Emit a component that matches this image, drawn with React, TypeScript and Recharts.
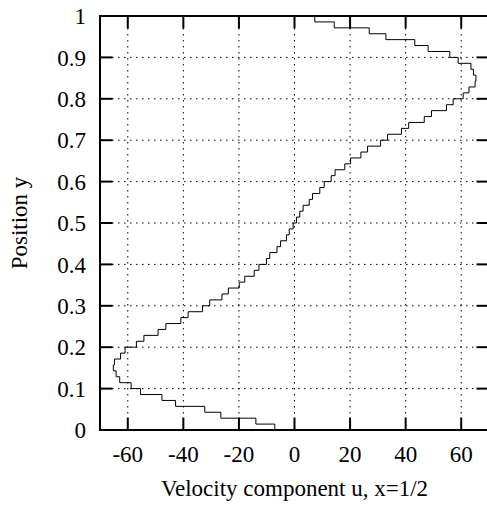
import React from "react";
import {
  LineChart,
  Line,
  XAxis,
  YAxis,
  CartesianGrid,
  ReferenceArea,
} from "recharts";

// position y of each step edge (cells of 1/70)
const yEdges = [
  0, 0.0143, 0.0286, 0.0429, 0.0571, 0.0714, 0.0857, 0.1, 0.1143, 0.1286,
  0.1429, 0.1571, 0.1714, 0.1857, 0.2, 0.2143, 0.2286, 0.2429, 0.2571, 0.2714,
  0.2857, 0.3, 0.3143, 0.3286, 0.3429, 0.3571, 0.3714, 0.3857, 0.4, 0.4143,
  0.4286, 0.4429, 0.4571, 0.4714, 0.4857, 0.5, 0.5143, 0.5286, 0.5429, 0.5571,
  0.5714, 0.5857, 0.6, 0.6143, 0.6286, 0.6429, 0.6571, 0.6714, 0.6857, 0.7,
  0.7143, 0.7286, 0.7429, 0.7571, 0.7714, 0.7857, 0.8, 0.8143, 0.8286, 0.8429,
  0.8571, 0.8714, 0.8857, 0.9, 0.9143, 0.9286, 0.9429, 0.9571, 0.9714, 0.9857,
  1,
];

// velocity u in each cell, bottom to top
const uCells = [
  -7.1, -13.9, -26.5, -32.3, -42.8, -47.7, -55.4, -58.8, -62.9, -64.2,
  -65.2, -64.8, -62.6, -61.0, -56.9, -54.2, -49.1, -46.3, -40.9, -38.3,
  -33.1, -30.5, -26.1, -23.8, -19.9, -17.9, -14.5, -12.8, -10.1, -8.9,
  -6.3, -5.0, -2.9, -1.9, -0.5, 0.7, 1.9, 3.1, 5.3, 6.5,
  9.1, 10.7, 13.2, 14.6, 18.1, 20.2, 23.9, 26.3, 31.0, 33.5,
  38.5, 41.1, 46.7, 49.3, 54.7, 57.1, 60.7, 62.8, 65.0, 65.3,
  64.4, 63.5, 58.9, 55.9, 48.1, 43.3, 32.9, 26.9, 14.3, 7.3,
];

const xTicks = [-60, -40, -20, 0, 20, 40, 60];
const yTicks = [0, 0.1, 0.2, 0.3, 0.4, 0.5, 0.6, 0.7, 0.8, 0.9, 1];

const data = yEdges.map((y, i) => ({
  y,
  u: uCells[Math.min(i, uCells.length - 1)],
}));

const W = 500;
const H = 508;
const MARGIN = { top: 16, right: 11, bottom: 28, left: 40 };
const Y_AXIS_W = 60;
const X_AXIS_H = 50;
const PLOT_W = W - MARGIN.left - MARGIN.right - Y_AXIS_W;
const PLOT_H = H - MARGIN.top - MARGIN.bottom - X_AXIS_H;
const TICK_LEN = 12.5;
const X_GAP = 16;
const Y_GAP = 14;
const FONT = "'Liberation Serif', 'Times New Roman', serif";
const FS = 23;

function XTick(props: any) {
  const { x, y, payload } = props;
  const bottom = y - X_GAP;
  const top = bottom - PLOT_H;
  return (
    <g>
      <line x1={x} x2={x} y1={bottom} y2={bottom - TICK_LEN} stroke="#000" strokeWidth={2} />
      <line x1={x} x2={x} y1={top} y2={top + TICK_LEN} stroke="#000" strokeWidth={2} />
      <text x={x} y={y} dy="0.71em" textAnchor="middle" fontFamily={FONT} fontSize={FS} fill="#000">
        {payload.value}
      </text>
    </g>
  );
}

function YTick(props: any) {
  const { x, y, payload } = props;
  const left = x + Y_GAP;
  const right = left + PLOT_W;
  return (
    <g>
      <line x1={left} x2={left + TICK_LEN} y1={y} y2={y} stroke="#000" strokeWidth={2} />
      <line x1={right} x2={right - TICK_LEN} y1={y} y2={y} stroke="#000" strokeWidth={2} />
      <text x={x} y={y} dy="0.355em" textAnchor="end" fontFamily={FONT} fontSize={FS} fill="#000">
        {String(payload.value)}
      </text>
    </g>
  );
}

export default function App() {
  return (
    <div
      style={{
        position: "absolute",
        left: 0,
        top: 0,
        width: 487,
        height: 508,
        overflow: "hidden",
        background: "#fff",
      }}
    >
      <LineChart width={W} height={H} data={data} layout="vertical" margin={MARGIN}>
        <CartesianGrid stroke="#000" strokeDasharray="1.5 4.5" strokeWidth={1} />
        <XAxis
          type="number"
          domain={[-70, 70]}
          ticks={xTicks}
          height={X_AXIS_H}
          axisLine={false}
          tickLine={false}
          tickSize={0}
          tickMargin={X_GAP}
          tick={<XTick />}
          interval={0}
          label={(p: any) => (
            <text
              x={p.viewBox.x + p.viewBox.width / 2}
              y={p.viewBox.y + 66}
              textAnchor="middle"
              fontFamily={FONT}
              fontSize={FS}
              fill="#000"
            >
              Velocity component u, x=1/2
            </text>
          )}
        />
        <YAxis
          type="number"
          dataKey="y"
          domain={[0, 1]}
          ticks={yTicks}
          reversed
          width={Y_AXIS_W}
          axisLine={false}
          tickLine={false}
          tickSize={0}
          tickMargin={Y_GAP}
          tick={<YTick />}
          interval={0}
          label={(p: any) => {
            const cx = p.viewBox.x - 13;
            const cy = p.viewBox.y + p.viewBox.height / 2;
            return (
              <text
                x={cx}
                y={cy}
                transform={`rotate(-90, ${cx}, ${cy})`}
                textAnchor="middle"
                fontFamily={FONT}
                fontSize={FS}
                fill="#000"
              >
                Position y
              </text>
            );
          }}
        />
        <Line
          dataKey="u"
          type="stepBefore"
          stroke="#000"
          strokeWidth={1}
          dot={false}
          activeDot={false}
          isAnimationActive={false}
        />
        <ReferenceArea
          x1={-70}
          x2={70}
          y1={0}
          y2={1}
          fill="none"
          fillOpacity={0}
          stroke="#000"
          strokeWidth={2}
        />
      </LineChart>
    </div>
  );
}
